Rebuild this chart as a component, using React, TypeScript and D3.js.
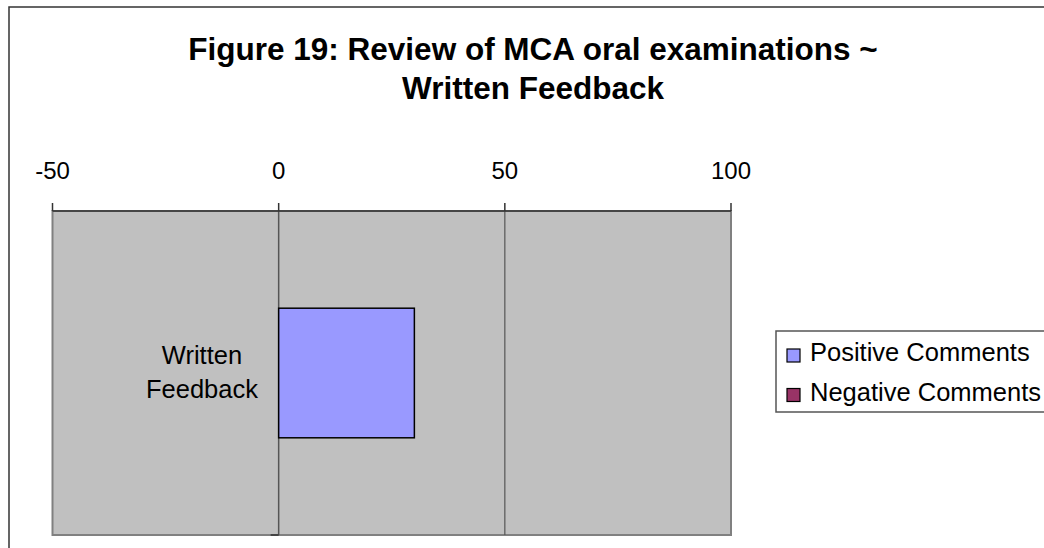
import React from "react";
import * as d3 from "d3";

const titleLines = ["Figure 19: Review of MCA oral examinations ~", "Written Feedback"];
const categories = ["Written Feedback"];
const categoryLines = ["Written", "Feedback"];
const seriesNames = ["Positive Comments", "Negative Comments"];
const positiveValues = [30];
const negativeValues = [0];
const tickValues = [-50, 0, 50, 100];
const seriesColors = ["#9999FF", "#993366"];

const FONT = "'Liberation Sans', Arial, Helvetica, sans-serif";

export default function App() {
  const W = 1044;
  const H = 548;
  const plot = { left: 52.5, right: 731, top: 211, bottom: 535 };

  const x = d3.scaleLinear().domain([-50, 100]).range([plot.left, plot.right]);
  const y = d3.scaleBand<string>().domain(categories).range([plot.top, plot.bottom]).padding(0);
  const barFrac = 0.4;

  const stacks = categories.map((c, i) => {
    const vals = [positiveValues[i], negativeValues[i]];
    let acc = 0;
    return vals.map((v, s) => {
      const start = acc;
      acc += v;
      return { c, s, x0: Math.min(start, acc), x1: Math.max(start, acc), v };
    });
  });

  return (
    <svg width={W} height={H} style={{ position: "absolute", left: 0, top: 0, background: "#fff" }}>
      {/* outer chart border */}
      <rect x={9} y={7} width={1100} height={600} fill="#fff" stroke="#333" strokeWidth={1.5} />

      {/* title */}
      <text x={533} y={60} textAnchor="middle" fontFamily={FONT} fontWeight="bold" fontSize={31.5} fill="#000">
        {titleLines[0]}
      </text>
      <text x={533} y={98.5} textAnchor="middle" fontFamily={FONT} fontWeight="bold" fontSize={31.5} fill="#000">
        {titleLines[1]}
      </text>

      {/* plot area */}
      <rect
        x={plot.left}
        y={plot.top}
        width={plot.right - plot.left}
        height={plot.bottom - plot.top}
        fill="#C0C0C0"
        stroke="#808080"
        strokeWidth={2}
      />

      {/* gridlines */}
      {tickValues
        .filter((t) => t !== -50 && t !== 100 && t !== 0)
        .map((t) => (
          <line key={"g" + t} x1={x(t)} x2={x(t)} y1={plot.top} y2={plot.bottom} stroke="#555" strokeWidth={1.2} />
        ))}

      {/* category axis at zero */}
      <line x1={x(0)} x2={x(0)} y1={plot.top} y2={plot.bottom} stroke="#555" strokeWidth={1.5} />
      <line x1={x(0) - 8} x2={x(0)} y1={plot.bottom} y2={plot.bottom} stroke="#444" strokeWidth={2} />

      {/* bars */}
      {stacks.flat().map((d) =>
        d.v === 0 ? null : (
          <rect
            key={d.c + d.s}
            x={x(d.x0)}
            y={(y(d.c) as number) + (y.bandwidth() * (1 - barFrac)) / 2}
            width={x(d.x1) - x(d.x0)}
            height={y.bandwidth() * barFrac}
            fill={seriesColors[d.s]}
            stroke="#000"
            strokeWidth={1.5}
          />
        )
      )}

      {/* value axis on top */}
      <line x1={plot.left} x2={plot.right} y1={plot.top} y2={plot.top} stroke="#333" strokeWidth={1.5} />
      {tickValues.map((t) => (
        <g key={"t" + t}>
          <line x1={x(t)} x2={x(t)} y1={plot.top - 8} y2={plot.top} stroke="#333" strokeWidth={1.5} />
          <text x={x(t)} y={179} textAnchor="middle" fontFamily={FONT} fontSize={24} fill="#000">
            {t}
          </text>
        </g>
      ))}

      {/* category label */}
      {categories.map((c) => {
        const cy = (y(c) as number) + y.bandwidth() / 2;
        return (
          <text key={c} textAnchor="middle" fontFamily={FONT} fontSize={25.5} fill="#000">
            {categoryLines.map((ln, i) => (
              <tspan key={ln} x={202} y={cy - 9.5 + i * 34}>
                {ln}
              </tspan>
            ))}
          </text>
        );
      })}

      {/* legend */}
      <rect x={776} y={331} width={300} height={81} fill="#fff" stroke="#555" strokeWidth={1.5} />
      {seriesNames.map((n, i) => (
        <g key={n}>
          <rect x={787} y={349 + i * 39.5} width={13} height={13} fill={seriesColors[i]} stroke="#000" strokeWidth={1.2} />
          <text x={810} y={361 + i * 39.5} fontFamily={FONT} fontSize={25.5} fill="#000">
            {n}
          </text>
        </g>
      ))}
    </svg>
  );
}
